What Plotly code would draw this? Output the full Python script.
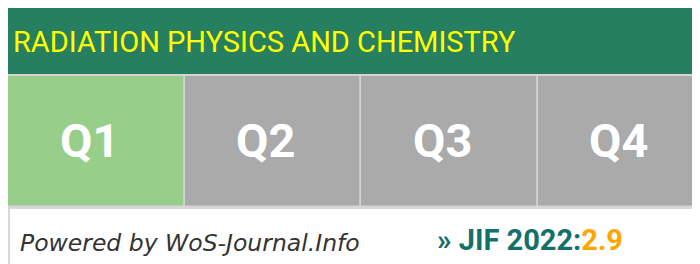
import plotly.graph_objects as go

# ---- data ----
journal = "RADIATION PHYSICS AND CHEMISTRY"
quartiles = ["Q1", "Q2", "Q3", "Q4"]
journal_quartile = "Q1"
jif_year = 2022
jif_value = 2.9
credit = "Powered by WoS-Journal.Info"

# ---- layout constants (figure pixels; page adds an 8px body margin) ----
W, H = 692, 256
HEADER_TOP, HEADER_BOT = 0, 66
CELL_TOP, CELL_BOT = 68, 199
CELL_W = 176.5

HEADER_COL = "#267F5E"
TITLE_COL = "#FFFF00"
ACTIVE_COL = "#97CE89"
INACTIVE_COL = "#AAAAAA"
SEP_COL = "#D4D4D4"
FONT_COND = "Roboto, sans-serif"

colors = [ACTIVE_COL if q == journal_quartile else INACTIVE_COL for q in quartiles]

x0 = -0.5
x1 = x0 + W / CELL_W

fig = go.Figure()
fig.add_trace(go.Bar(
    x=quartiles,
    y=[CELL_BOT - CELL_TOP] * len(quartiles),
    base=CELL_TOP,
    width=1,
    marker=dict(color=colors, line=dict(color=SEP_COL, width=1.5)),
    textposition="none",
    hoverinfo="skip",
))

def px(x):
    return x / W

def py(y):
    return 1 - y / H

shapes = [
    dict(type="rect", xref="paper", yref="paper", x0=0, x1=1.01,
         y0=py(HEADER_BOT), y1=1.01, fillcolor=HEADER_COL,
         line=dict(width=0), layer="below"),
    dict(type="rect", xref="paper", yref="paper", x0=0, x1=1.01,
         y0=py(CELL_TOP), y1=py(HEADER_BOT), fillcolor=SEP_COL,
         line=dict(width=0), layer="below"),
    dict(type="rect", xref="paper", yref="paper", x0=0, x1=1.01,
         y0=py(CELL_BOT + 2), y1=py(CELL_BOT), fillcolor="#D8D8D8",
         line=dict(width=0)),
    dict(type="rect", xref="paper", yref="paper", x0=0, x1=px(2),
         y0=-0.01, y1=py(CELL_BOT), fillcolor="#D8D8D8",
         line=dict(width=0)),
]

annotations = [
    dict(text=journal, xref="paper", yref="paper", x=px(3), y=py(33.5),
         xanchor="left", yanchor="middle", showarrow=False,
         font=dict(family=FONT_COND, size=29, color=TITLE_COL)),
]
for q in quartiles:
    annotations.append(dict(
        text="<b>%s</b>" % q, x=q, y=132, xref="x", yref="y",
        xshift=-7, showarrow=False, xanchor="center", yanchor="middle",
        font=dict(family=FONT_COND, size=47, color="white")))

annotations.append(dict(
    text="<i>%s</i>" % credit, xref="paper", yref="paper", x=px(10), y=py(235),
    xanchor="left", yanchor="middle", showarrow=False,
    font=dict(family="DejaVu Sans, sans-serif", size=23.5, color="#333333")))
annotations.append(dict(
    text="<b>» JIF %d:</b><span style='color:#FFA500'><b>%.1f</b></span>" % (jif_year, jif_value),
    xref="paper", yref="paper", x=px(427), y=py(231.5),
    xanchor="left", yanchor="middle", showarrow=False,
    font=dict(family=FONT_COND, size=29, color="#14706B")))

fig.update_layout(
    width=W, height=H,
    margin=dict(l=0, r=0, t=0, b=0),
    paper_bgcolor="white", plot_bgcolor="rgba(0,0,0,0)",
    showlegend=False,
    bargap=0,
    xaxis=dict(range=[x0, x1], visible=False, fixedrange=True, type="category"),
    yaxis=dict(range=[H, 0], visible=False, fixedrange=True),
    shapes=shapes,
    annotations=annotations,
)

fig.write_html("out.html", config={"displayModeBar": False})
